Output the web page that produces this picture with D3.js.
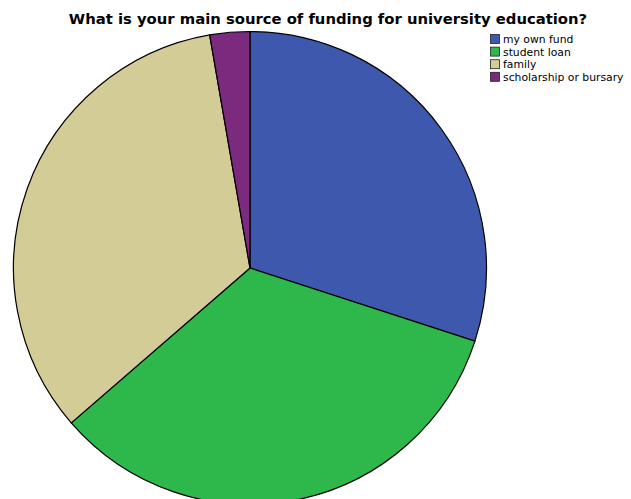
<!DOCTYPE html>
<html>
<head>
<meta charset="utf-8">
<script src="https://cdn.jsdelivr.net/npm/d3@7"></script>
<style>
body { margin: 0; background: #fff; }
svg { display: block; }
</style>
</head>
<body>
<script>
const width = 631
const height = 499

const categories = ["my own fund", "student loan", "family", "scholarship or bursary"]
const counts = [33, 37, 37, 3]
const colors = ["#3e58ad", "#2eb84b", "#d3cc97", "#7b2a7e"]

const cx = 250
const cy = 268
const radius = 236.5

let svg = d3.select("body")
    .append("svg")
    .attr("width", width)
    .attr("height", height)

let color = d3.scaleOrdinal()
    .domain(categories)
    .range(colors)

let pie = d3.pie()
    .sort(null)
    .value(function(d, i){ return counts[i] })

let arc = d3.arc()
    .innerRadius(0)
    .outerRadius(radius)

svg.append("g")
    .attr("transform", `translate(${cx},${cy})`)
    .selectAll("path")
    .data(pie(categories))
    .enter()
        .append("path")
        .attr("d", arc)
        .attr("fill", function(d){ return color(d.data) })
        .attr("stroke", "#000")
        .attr("stroke-width", 1.2)

// title
svg.append("text")
    .attr("x", 328)
    .attr("y", 24)
    .attr("text-anchor", "middle")
    .style("font-family", "'DejaVu Sans', sans-serif")
    .style("font-weight", "bold")
    .style("font-size", "14.8px")
    .text("What is your main source of funding for university education?")

// legend
let legend = svg.selectAll(".legend")
    .data(categories)
    .enter()
        .append("g")
        .attr("transform", function(d, i){ return `translate(490.5,${34.5 + i*12.6})` })

legend.append("rect")
    .attr("width", 9)
    .attr("height", 9)
    .attr("fill", function(d){ return color(d) })
    .attr("stroke", "#222")
    .attr("stroke-width", 0.8)

legend.append("text")
    .attr("x", 12.5)
    .attr("y", 8.5)
    .style("font-family", "'DejaVu Sans', sans-serif")
    .style("font-size", "10.8px")
    .text(function(d){ return d })
</script>
</body>
</html>
